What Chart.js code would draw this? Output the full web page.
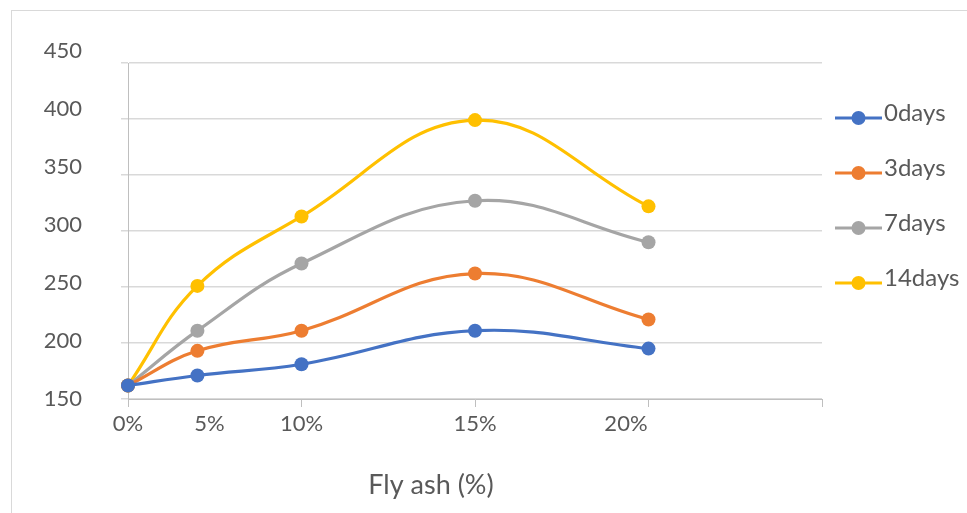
<!DOCTYPE html>
<html>
<head>
<meta charset="utf-8">
<script src="https://cdn.jsdelivr.net/npm/chart.js@4.4.1/dist/chart.umd.min.js"></script>
<style>
  html, body { margin: 0; padding: 0; background: #ffffff; }
  #frame { position: absolute; left: 11px; top: 10px; width: 956px; height: 503px;
           border-left: 1px solid #d9d9d9; border-top: 1px solid #d9d9d9; }
  #wrap { position: absolute; left: 0; top: 0; width: 967px; height: 513px; }
</style>
</head>
<body>
<div id="frame"></div>
<div id="wrap"><canvas id="c" width="967" height="513"></canvas></div>
<script>
// Fly ash content categories and where each sits on the horizontal scale
const flyAshLabels = ['0%', '5%', '10%', '15%', '20%'];
const flyAshSlot = [0, 0.4, 1, 2, 3];
// where each category caption is printed along the same scale
const flyAshLabelSlot = [0, 0.47, 1, 2, 2.87];
const xAxisMarks = [0, 1, 2, 3, 4];

// Strength readings per curing age
const seriesNames = ['0days', '3days', '7days', '14days'];
const days0 = [162, 171, 181, 211, 195];
const days3 = [162, 193, 211, 262, 221];
const days7 = [162, 211, 271, 327, 290];
const days14 = [162, 251, 313, 399, 322];
const seriesColors = ['#4472C4', '#ED7D31', '#A5A5A5', '#FFC000'];

const yTicks = [150, 200, 250, 300, 350, 400, 450];
const xTitle = 'Fly ash (%)';

const TEXT = '#595959';
const FONT = 'Lato, "Open Sans", sans-serif';

const allSeries = [days0, days3, days7, days14];
const datasets = allSeries.map((vals, i) => ({
  label: seriesNames[i],
  data: vals.map((v, j) => ({ x: flyAshSlot[j], y: v })),
  borderColor: seriesColors[i],
  backgroundColor: seriesColors[i],
  pointBackgroundColor: seriesColors[i],
  pointBorderWidth: 0,
  pointRadius: 7,
  pointHoverRadius: 7,
  borderWidth: 3.2,
  tension: 0.4,
  clip: false
}));

// Legend on the right: a short line with a dot, name beside it
const sideLegend = {
  id: 'sideLegend',
  afterDraw(chart) {
    const ctx = chart.ctx;
    const right = chart.chartArea.right;
    const top = chart.chartArea.top;
    ctx.save();
    chart.data.datasets.forEach((ds, i) => {
      const y = top + 55 + i * 55;
      const x0 = right + 13, x1 = right + 60;
      ctx.strokeStyle = ds.borderColor;
      ctx.lineWidth = 3;
      ctx.beginPath(); ctx.moveTo(x0, y); ctx.lineTo(x1, y); ctx.stroke();
      ctx.fillStyle = ds.borderColor;
      ctx.beginPath(); ctx.arc((x0 + x1) / 2, y, 7, 0, Math.PI * 2); ctx.fill();
      ctx.fillStyle = TEXT;
      ctx.font = '24px ' + FONT;
      ctx.textAlign = 'left';
      ctx.textBaseline = 'middle';
      ctx.fillText(ds.label, x1 + 2, y - 5);
    });
    ctx.restore();
  }
};

// Value labels of the vertical axis and the horizontal axis caption
const axisText = {
  id: 'axisText',
  afterDraw(chart) {
    const ctx = chart.ctx;
    const ys = chart.scales.y;
    const area = chart.chartArea;
    ctx.save();
    ctx.fillStyle = TEXT;
    ctx.font = '22px ' + FONT;
    ctx.textAlign = 'right';
    ctx.textBaseline = 'middle';
    ys.ticks.forEach(t => {
      const y = ys.getPixelForValue(t.value) - (t.value - ys.min) * 0.04;
      ctx.fillText(String(t.value), area.left - 46, y);
    });
    ctx.font = '27px ' + FONT;
    ctx.textAlign = 'center';
    ctx.fillText(xTitle, area.left + 303, 485);
    ctx.restore();
  }
};

new Chart(document.getElementById('c'), {
  type: 'line',
  data: { datasets },
  plugins: [sideLegend, axisText],
  options: {
    responsive: false,
    animation: false,
    devicePixelRatio: 1,
    layout: { padding: { top: 63, right: 145, left: 0, bottom: 0 } },
    plugins: { legend: { display: false }, tooltip: { enabled: false } },
    events: [],
    scales: {
      x: {
        type: 'linear',
        min: 0,
        max: 4,
        afterFit(scale) { scale.height = 114; },
        afterBuildTicks(scale) {
          const vals = Array.from(new Set([...xAxisMarks, ...flyAshLabelSlot])).sort((a, b) => a - b);
          scale.ticks = vals.map(v => ({ value: v }));
        },
        border: { color: '#bfbfbf', width: 1 },
        grid: {
          drawOnChartArea: false,
          drawTicks: true,
          tickLength: 8,
          tickColor: c => (xAxisMarks.includes(c.tick.value) ? '#bfbfbf' : 'rgba(0,0,0,0)')
        },
        ticks: {
          autoSkip: false,
          maxRotation: 0,
          padding: 4,
          color: TEXT,
          font: { family: FONT, size: 22 },
          callback: v => {
            const i = flyAshLabelSlot.indexOf(v);
            return i >= 0 ? flyAshLabels[i] : '';
          }
        }
      },
      y: {
        min: 150,
        max: 450,
        afterFit(scale) { scale.width = 128; },
        afterBuildTicks(scale) { scale.ticks = yTicks.map(v => ({ value: v })); },
        border: { color: '#bfbfbf', width: 1 },
        grid: { color: '#d9d9d9', lineWidth: 1.5, tickLength: 7, tickColor: '#d9d9d9' },
        ticks: { display: false }
      }
    }
  }
});
</script>
</body>
</html>
